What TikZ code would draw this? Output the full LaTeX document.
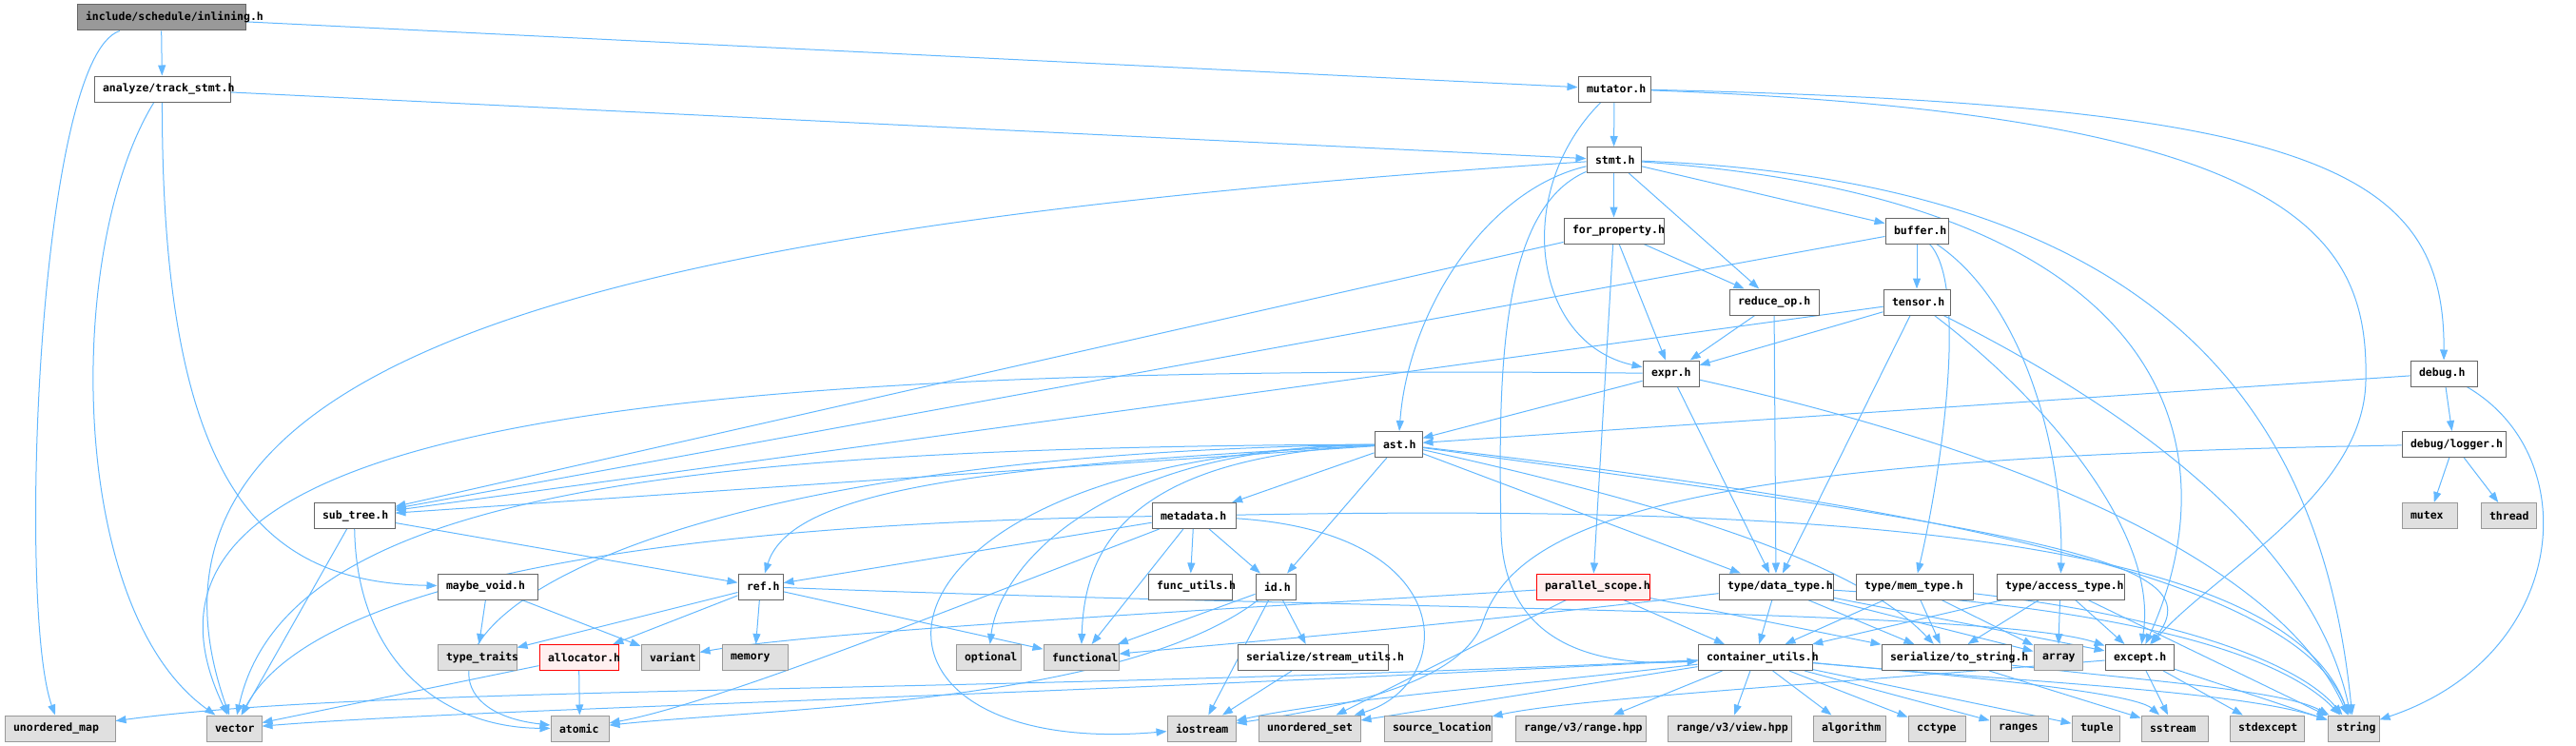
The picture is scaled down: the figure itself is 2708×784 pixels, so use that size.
\documentclass[tikz,border=0pt]{standalone}
\usepackage{fontspec}
\newfontfamily\dxfont{DejaVu Sans Mono}
\usetikzlibrary{arrows.meta,backgrounds}
\definecolor{edgeblue}{HTML}{63B8FF}
\definecolor{boxgray}{HTML}{666666}
\definecolor{sysgray}{HTML}{999999}
\definecolor{sysfill}{HTML}{E0E0E0}
\definecolor{badred}{HTML}{FF0000}
\definecolor{badfill}{HTML}{FFF0F0}

\begin{document}
\begin{tikzpicture}[x=1pt,y=-1pt,font=\dxfont\bfseries\fontsize{11.5}{12}\selectfont,
  hf/.style={draw=boxgray,fill=white,line width=1pt,minimum height=27pt,inner ysep=0pt,inner xsep=9pt},
  root/.style={hf,fill=sysgray},
  bad/.style={hf,draw=badred,fill=badfill},
  sys/.style={hf,draw=sysgray,fill=sysfill},
  dep/.style={draw=edgeblue,line width=1pt,-{Triangle[length=11pt,width=8pt]}}]
\useasboundingbox (0,0) rectangle (2708,784);
% the file itself
\node[root,minimum width=177pt] (inl) at (169.5,18.5) {\makebox[159pt][l]{include/schedule/inlining.h}};
% project headers
\foreach \n/\x/\y/\w/\txt in {trk/170.5/93.5/143/{analyze/track\_stmt.h},mut/1697/93.5/76/mutator.h,
  stmt/1696.5/168/57/stmt.h,forp/1696.5/242.5/105/for\_property.h,buf/2015/242.5/66/buffer.h,
  rop/1865/317.5/94/reduce\_op.h,ten/2015/317.5/70/tensor.h,expr/1756.5/392.5/59/expr.h,
  dbg/2569/392.5/70/debug.h,ast/1470/467/50/ast.h,log/2579.5/467/109/{debug/logger.h},
  sub/372.5/542/85/sub\_tree.h,meta/1255/542/88/metadata.h,mvoid/512.5/616.5/105/maybe\_void.h,
  ref/799.5/616.5/47/ref.h,func/1251/616.5/88/func\_utils.h,id/1341/616.5/42/id.h,
  dtype/1867/616.5/120/{type/data\_type.h},mtype/2012.5/616.5/123/{type/mem\_type.h},
  atype/2166/616.5/134/{type/access\_type.h},sutil/1380/691/158/{serialize/stream\_utils.h},
  cutil/1845/691/120/container\_utils.h,tostr/2046/691/136/{serialize/to\_string.h},
  except/2249/691/72/except.h}{
  \node[hf,minimum width=\w pt] (\n) at (\x,\y) {\makebox[\dimexpr\w pt-18pt\relax][l]{\txt}};
}
% headers that are not documented
\foreach \n/\x/\y/\w/\txt in {par/1674.5/616.5/119/parallel\_scope.h,alloc/608.5/691/83/allocator.h}{
  \node[bad,minimum width=\w pt] (\n) at (\x,\y) {\makebox[\dimexpr\w pt-18pt\relax][l]{\txt}};
}
% system headers
\foreach \n/\x/\y/\w/\txt in {mutex/2554/542/58/mutex,thread/2637/542/58/thread,
  ttraits/501.5/691/83/type\_traits,variant/704.5/691/61/variant,memory/793.5/691/69/memory,
  optional/1039/691/68/optional,functional/1136.5/691/79/functional,array/2163.5/691/51/array,
  umap/63/765.5/116/unordered\_map,vector/246/765.5/58/vector,atomic/609.5/765.5/61/atomic,
  iostream/1263/765.5/72/iostream,uset/1376.5/765.5/107/unordered\_set,
  srcloc/1511.5/765.5/113/source\_location,rrange/1661.5/765.5/137/{range/v3/range.hpp},
  rview/1818/765.5/130/{range/v3/view.hpp},algo/1944/765.5/76/algorithm,cctype/2036/765.5/60/cctype,
  ranges/2122.5/765.5/61/ranges,tuple/2203/765.5/50/tuple,sstream/2286/765.5/70/sstream,
  stdexc/2383/765.5/78/stdexcept,string/2474/765.5/54/string}{
  \node[sys,minimum width=\w pt] (\n) at (\x,\y) {\makebox[\dimexpr\w pt-18pt\relax][l]{\txt}};
}
\begin{scope}[on background layer]
% straight includes
\foreach \a/\b in {inl/trk,inl/mut,trk/stmt,mut/stmt,stmt/forp,stmt/buf,stmt/rop,forp/expr,forp/rop,
  forp/par,forp/sub,buf/ten,buf/sub,rop/expr,rop/dtype,ten/expr,ten/dtype,ten/sub,expr/ast,expr/dtype,
  dbg/ast,dbg/log,ast/sub,ast/meta,ast/id,ast/dtype,log/mutex,log/thread,sub/vector,sub/ref,meta/ref,
  meta/func,meta/id,meta/functional,mvoid/ttraits,mvoid/variant,ref/ttraits,ref/alloc,ref/memory,
  ref/functional,id/functional,id/iostream,id/sutil,sutil/iostream,par/uset,par/cutil,par/tostr,
  dtype/cutil,dtype/tostr,dtype/array,dtype/except,mtype/cutil,mtype/tostr,mtype/array,atype/cutil,
  atype/tostr,atype/array,atype/except,atype/string,alloc/vector,alloc/atomic,cutil/uset,cutil/rrange,
  cutil/rview,cutil/algo,cutil/cctype,cutil/ranges,cutil/tuple,tostr/sstream,except/sstream,
  except/stdexc,except/string}{
  \draw[dep] (\a) -- (\b);
}
% routed includes
\draw[dep] (inl) .. controls (40,60) and (18,640) .. (umap);
\draw[dep] (trk) .. controls (68,260) and (70,640) .. (vector);
\draw[dep] (trk) .. controls (170,520) and (280,612) .. (mvoid);
\draw[dep] (mut) .. controls (1590,200) and (1610,360) .. (expr);
\draw[dep] (mut) .. controls (2440,110) and (2570,180) .. (dbg);
\draw[dep] (mut) .. controls (2420,120) and (2490,250) .. (2487,400) .. controls (2485,520) and (2330,600) .. (except);
\draw[dep] (stmt) .. controls (1560,200) and (1480,330) .. (ast);
\draw[dep] (stmt) .. controls (1575,220) and (1575,400) .. (1578,560) .. controls (1582,690) and (1700,700) .. (cutil);
\draw[dep] (stmt) .. controls (2300,210) and (2345,480) .. (except);
\draw[dep] (stmt) .. controls (2260,190) and (2440,420) .. (string);
\draw[dep] (stmt) .. controls (600,240) and (110,380) .. (vector);
\draw[dep] (buf) .. controls (2070,300) and (2040,500) .. (mtype);
\draw[dep] (buf) .. controls (2130,320) and (2170,480) .. (atype);
\draw[dep] (ten) .. controls (2150,420) and (2270,560) .. (except);
\draw[dep] (ten) .. controls (2220,420) and (2430,560) .. (string);
\draw[dep] (expr) .. controls (2150,480) and (2400,600) .. (string);
\draw[dep] (expr) .. controls (600,380) and (100,460) .. (vector);
\draw[dep] (dbg) .. controls (2720,480) and (2700,690) .. (string);
\draw[dep] (ast) .. controls (1000,490) and (830,520) .. (ref);
\draw[dep] (ast) .. controls (1180,480) and (1140,580) .. (functional);
\draw[dep] (ast) .. controls (1150,470) and (1050,600) .. (optional);
\draw[dep] (ast) .. controls (880,480) and (860,800) .. (iostream);
\draw[dep] (ast) .. controls (500,480) and (380,740) .. (atomic);
\draw[dep] (ast) .. controls (700,470) and (300,520) .. (vector);
\draw[dep] (ast) .. controls (1800,540) and (1960,600) .. (tostr);
\draw[dep] (ast) .. controls (2150,560) and (2330,590) .. (except);
\draw[dep] (ast) .. controls (2100,540) and (2420,620) .. (string);
\draw[dep] (log) .. controls (1800,480) and (1600,540) .. (1560,650) .. controls (1540,720) and (1400,745) .. (iostream);
\draw[dep] (meta) .. controls (700,550) and (330,610) .. (vector);
\draw[dep] (meta) .. controls (1900,530) and (2400,560) .. (string);
\draw[dep] (meta) .. controls (1540,560) and (1530,720) .. (uset);
\draw[dep] (meta) .. controls (1000,640) and (750,740) .. (atomic);
\draw[dep] (sub) .. controls (375,700) and (470,765) .. (atomic);
\draw[dep] (ref) .. controls (1400,640) and (2100,640) .. (except);
\draw[dep] (id) .. controls (1180,740) and (800,745) .. (atomic);
\draw[dep] (par) .. controls (1200,645) and (850,665) .. (variant);
\draw[dep] (dtype) .. controls (1500,660) and (1250,680) .. (functional);
\draw[dep] (dtype) .. controls (2250,640) and (2400,690) .. (string);
\draw[dep] (mtype) .. controls (2300,650) and (2420,700) .. (string);
\draw[dep] (cutil) .. controls (1000,730) and (400,720) .. (umap);
\draw[dep] (cutil) .. controls (1000,735) and (500,745) .. (vector);
\draw[dep] (cutil) .. controls (1600,720) and (1400,735) .. (iostream);
\draw[dep] (cutil) .. controls (2000,705) and (2240,725) .. (sstream);
\draw[dep] (cutil) .. controls (2100,715) and (2350,725) .. (string);
\draw[dep] (tostr) .. controls (2250,715) and (2400,725) .. (string);
\draw[dep] (except) .. controls (1900,720) and (1650,735) .. (srcloc);
\end{scope}
\end{tikzpicture}
\end{document}
